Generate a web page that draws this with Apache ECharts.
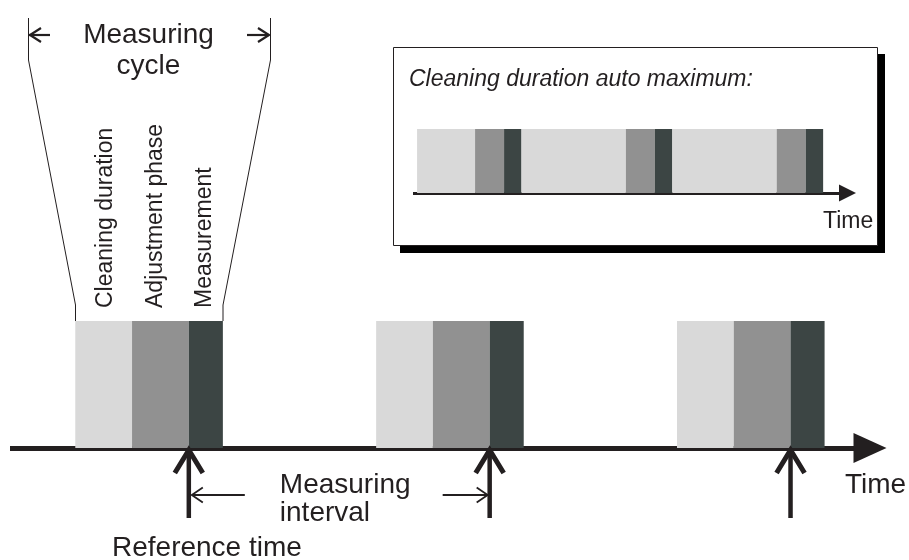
<!DOCTYPE html>
<html><head><meta charset="utf-8">
<script src="https://cdn.jsdelivr.net/npm/echarts@6/dist/echarts.min.js"></script>
<style>html,body{margin:0;padding:0;background:#fff}#c{width:909px;height:560px}</style>
</head><body><div id="c"></div>
<script>
// ---- data ----
const phaseNames = ['Cleaning duration', 'Adjustment phase', 'Measurement'];
const phaseDurations = [10, 10, 6];          // cleaning, adjustment, measurement
const referenceTimes = [20, 73, 126];        // end of adjustment = start of measurement
const autoCleaningDurations = [20, 36, 36];  // inset: cleaning duration auto maximum
const autoAdjustment = 10;
const autoMeasurement = 6;
const texts = {
  cycle: ['Measuring', 'cycle'],
  interval: ['Measuring', 'interval'],
  reference: 'Reference time',
  time: 'Time',
  insetTitle: 'Cleaning duration auto maximum:'
};

// ---- styles ----
const phaseColors = ['#d9d9d9', '#919191', '#3c4544'];
const ink = '#231f20';
const FF = "'Liberation Sans', Arial, Helvetica, sans-serif";
const BIG = '28px ' + FF;

// build segments
const mainSegments = [];
referenceTimes.forEach(r => {
  const c0 = r - phaseDurations[1] - phaseDurations[0];
  mainSegments.push([c0, c0 + phaseDurations[0], 0]);
  mainSegments.push([r - phaseDurations[1], r, 1]);
  mainSegments.push([r, r + phaseDurations[2], 2]);
});
const insetSegments = [];
let t = 0;
autoCleaningDurations.forEach(cd => {
  insetSegments.push([t, t + cd, 0]); t += cd;
  insetSegments.push([t, t + autoAdjustment, 1]); t += autoAdjustment;
  insetSegments.push([t, t + autoMeasurement, 2]); t += autoMeasurement;
});

function segItem(params, api) {
  const s = api.value(0), e = api.value(1), ph = api.value(2);
  const p0 = api.coord([s, 1]);
  const p1 = api.coord([e, 0]);
  return { type: 'rect', shape: { x: p0[0], y: p0[1], width: p1[0] - p0[0], height: p1[1] - p0[1] },
           style: { fill: phaseColors[ph] } };
}
function refArrow(params, api) {
  const p = api.coord([api.value(0), 0]);
  const x = p[0];
  return { type: 'group', children: [
    { type: 'line', shape: { x1: x, y1: 450, x2: x, y2: 518 }, style: { stroke: ink, lineWidth: 4.5 } },
    { type: 'polyline', shape: { points: [[x - 14, 473], [x, 450], [x + 14, 473]] },
      style: { stroke: ink, lineWidth: 5, fill: null, lineJoin: 'miter' } }
  ]};
}
function intervalItem(params, api) {
  const a = api.coord([api.value(0), 0])[0];
  const b = api.coord([api.value(1), 0])[0];
  const y = 495;
  return { type: 'group', children: [
    { type: 'line', shape: { x1: a + 3, y1: y, x2: a + 56, y2: y }, style: { stroke: ink, lineWidth: 1.8 } },
    { type: 'polyline', shape: { points: [[a + 14, y - 7.5], [a + 3, y], [a + 14, y + 7.5]] }, style: { stroke: ink, lineWidth: 1.8, fill: null } },
    { type: 'line', shape: { x1: b - 47, y1: y, x2: b - 2, y2: y }, style: { stroke: ink, lineWidth: 1.8 } },
    { type: 'polyline', shape: { points: [[b - 13, y - 7.5], [b - 2, y], [b - 13, y + 7.5]] }, style: { stroke: ink, lineWidth: 1.8, fill: null } },
    { type: 'text', x: a + 91, y: 485.2, style: { text: texts.interval[0], font: BIG, fill: ink, textAlign: 'left', textVerticalAlign: 'middle' } },
    { type: 'text', x: a + 91, y: 513.2, style: { text: texts.interval[1], font: BIG, fill: ink, textAlign: 'left', textVerticalAlign: 'middle' } }
  ]};
}

const hiddenY = { type: 'value', min: 0, max: 1, show: false };
const option = {
  animation: false,
  backgroundColor: '#fff',
  grid: [
    { left: 10, right: 39, top: 321, height: 127 },
    { left: 413, right: 61.5, top: 129, height: 64 }
  ],
  xAxis: [
    { type: 'value', gridIndex: 0, min: -11.5, max: 140,
      axisLine: { show: true, onZero: false, symbol: ['none', 'triangle'], symbolSize: [30, 33], lineStyle: { color: ink, width: 5, cap: 'butt' } },
      axisTick: { show: false }, axisLabel: { show: false }, splitLine: { show: false } },
    { type: 'value', gridIndex: 1, min: -1.4, max: 148.4,
      axisLine: { show: true, onZero: false, symbol: ['none', 'triangle'], symbolSize: [17, 17], lineStyle: { color: ink, width: 3, cap: 'butt' } },
      axisTick: { show: false }, axisLabel: { show: false }, splitLine: { show: false } }
  ],
  yAxis: [Object.assign({ gridIndex: 0 }, hiddenY), Object.assign({ gridIndex: 1 }, hiddenY)],
  series: [
    { type: 'custom', xAxisIndex: 0, yAxisIndex: 0, renderItem: segItem, data: mainSegments, clip: false, silent: true, z: 1 },
    { type: 'custom', xAxisIndex: 1, yAxisIndex: 1, renderItem: segItem, data: insetSegments, clip: false, silent: true, z: 1 },
    { type: 'custom', xAxisIndex: 0, yAxisIndex: 0, renderItem: refArrow, data: referenceTimes.map(v => [v]), clip: false, silent: true, z: 5 },
    { type: 'custom', xAxisIndex: 0, yAxisIndex: 0, renderItem: intervalItem, data: [[referenceTimes[0], referenceTimes[1]]], clip: false, silent: true, z: 5 }
  ],
  graphic: [
    // inset box
    { type: 'rect', z: -10, shape: { x: 400, y: 54, width: 485, height: 199 }, style: { fill: '#000' } },
    { type: 'rect', z: -9, shape: { x: 393.5, y: 47.5, width: 484, height: 198 }, style: { fill: '#fff', stroke: ink, lineWidth: 1 } },
    { type: 'text', x: 409, y: 79.5, style: { text: texts.insetTitle, font: 'italic 23px ' + FF, fill: ink, textAlign: 'left', textVerticalAlign: 'middle' } },
    { type: 'text', x: 823, y: 222, style: { text: texts.time, font: '23px ' + FF, fill: ink, textAlign: 'left', textVerticalAlign: 'middle' } },
    // main labels
    { type: 'text', x: 845, y: 485.2, style: { text: texts.time, font: BIG, fill: ink, textAlign: 'left', textVerticalAlign: 'middle' } },
    { type: 'text', x: 112, y: 548.2, style: { text: texts.reference, font: BIG, fill: ink, textAlign: 'left', textVerticalAlign: 'middle' } },
    { type: 'text', x: 148.5, y: 35.2, style: { text: texts.cycle[0], font: BIG, fill: ink, textAlign: 'center', textVerticalAlign: 'middle' } },
    { type: 'text', x: 148.5, y: 66.2, style: { text: texts.cycle[1], font: BIG, fill: ink, textAlign: 'center', textVerticalAlign: 'middle' } },
    // measuring cycle bracket
    { type: 'polyline', shape: { points: [[28.5, 18], [28.5, 60], [75.5, 305], [75.5, 321]] }, style: { stroke: ink, lineWidth: 1, fill: null } },
    { type: 'polyline', shape: { points: [[270.5, 18], [270.5, 60], [223, 305], [223, 321]] }, style: { stroke: ink, lineWidth: 1, fill: null } },
    { type: 'line', shape: { x1: 29, y1: 35, x2: 50, y2: 35 }, style: { stroke: ink, lineWidth: 2.2 } },
    { type: 'polyline', shape: { points: [[41, 28], [30, 35], [41, 42]] }, style: { stroke: ink, lineWidth: 2.2, fill: null } },
    { type: 'line', shape: { x1: 247, y1: 35, x2: 269, y2: 35 }, style: { stroke: ink, lineWidth: 2.2 } },
    { type: 'polyline', shape: { points: [[258, 28], [269, 35], [258, 42]] }, style: { stroke: ink, lineWidth: 2.2, fill: null } },
    // rotated phase labels
    { type: 'text', x: 105.5, y: 308, rotation: Math.PI / 2, style: { text: phaseNames[0], font: '23px ' + FF, fill: ink, textAlign: 'left', textVerticalAlign: 'middle' } },
    { type: 'text', x: 155.5, y: 308, rotation: Math.PI / 2, style: { text: phaseNames[1], font: '23px ' + FF, fill: ink, textAlign: 'left', textVerticalAlign: 'middle' } },
    { type: 'text', x: 204.5, y: 308, rotation: Math.PI / 2, style: { text: phaseNames[2], font: '23px ' + FF, fill: ink, textAlign: 'left', textVerticalAlign: 'middle' } }
  ]
};
const chart = echarts.init(document.getElementById('c'), null, { renderer: 'canvas' });
chart.setOption(option);
</script></body></html>
